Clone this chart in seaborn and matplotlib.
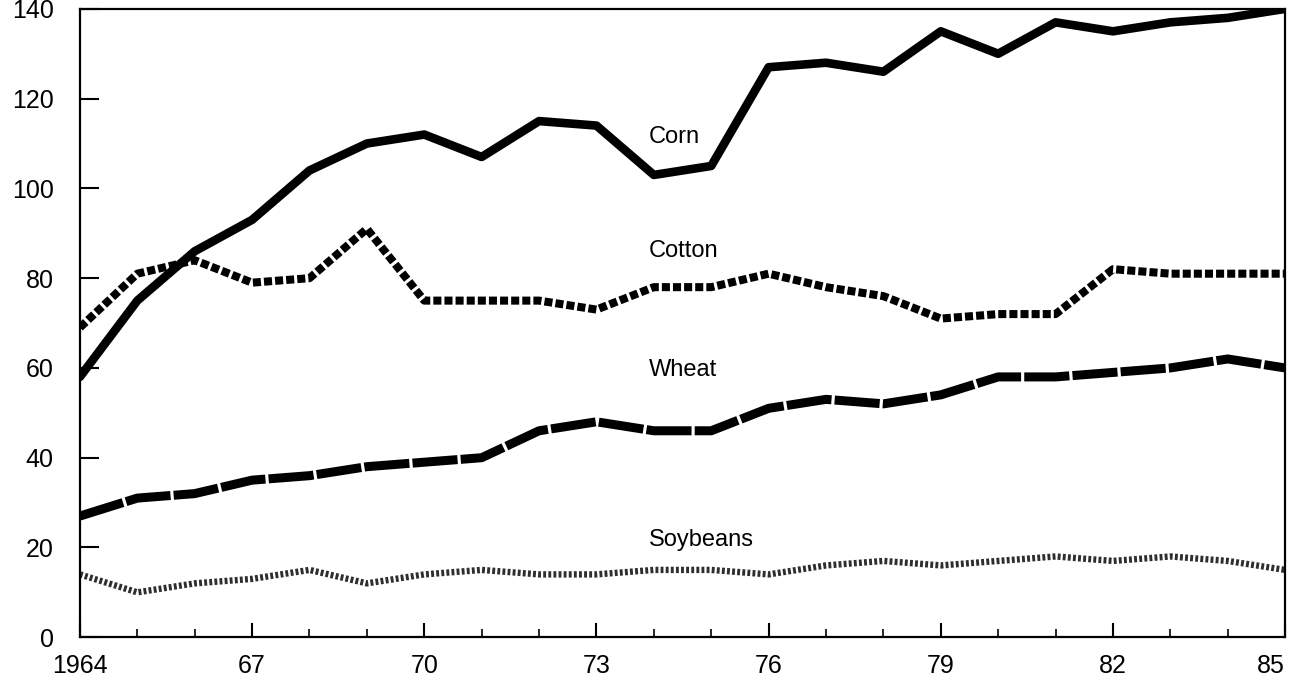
import numpy as np
import pandas as pd
import matplotlib
matplotlib.use("Agg")
import matplotlib.pyplot as plt
import seaborn as sns
from matplotlib.ticker import MultipleLocator

# ── data ───────────────────────────────────────────────────────
years = list(range(1964, 1986))

corn = [58, 75, 86, 93, 104, 110, 112, 107, 115, 114, 103,
        105, 127, 128, 126, 135, 130, 137, 135, 137, 138, 140]
cotton = [69, 81, 84, 79, 80, 91, 75, 75, 75, 73, 78,
          78, 81, 78, 76, 71, 72, 72, 82, 81, 81, 81]
wheat = [27, 31, 32, 35, 36, 38, 39, 40, 46, 48, 46,
         46, 51, 53, 52, 54, 58, 58, 59, 60, 62, 60]
soybeans = [14, 10, 12, 13, 15, 12, 14, 15, 14, 14, 15,
            15, 14, 16, 17, 16, 17, 18, 17, 18, 17, 15]

crop_names = ["Corn", "Cotton", "Wheat", "Soybeans"]
label_pos = {"Corn": (1973.92, 111.4), "Cotton": (1973.92, 86.1),
             "Wheat": (1973.92, 59.5), "Soybeans": (1973.92, 21.7)}

xtick_years = [1964, 1967, 1970, 1973, 1976, 1979, 1982, 1985]
xtick_labels = ["1964", "67", "70", "73", "76", "79", "82", "85"]

df = pd.DataFrame({"year": years, "Corn": corn, "Cotton": cotton,
                   "Wheat": wheat, "Soybeans": soybeans})
long_df = df.melt(id_vars="year", var_name="crop", value_name="value")

# ── style per series ───────────────────────────────────────────
styles = {
    "Corn": dict(color="black", lw=6.2, ls="-"),
    "Cotton": dict(color="black", lw=5.8, ls=(0, (1.0, 0.38))),
    "Wheat": dict(color="black", lw=6.5, ls=(0, (5.0, 0.35))),
    "Soybeans": dict(color="#2e2e2e", lw=4.6, ls=(0, (0.45, 0.35))),
}

sns.set_theme(style="white")
plt.rcParams["font.family"] = ["Liberation Sans", "DejaVu Sans"]

fig = plt.figure(figsize=(12.89, 6.83), dpi=100)
ax = fig.add_axes([0.062, 0.067, 0.935, 0.92])

for name in crop_names:
    sub = long_df[long_df["crop"] == name]
    st = styles[name]
    sns.lineplot(data=sub, x="year", y="value", ax=ax, color=st["color"],
                 linewidth=st["lw"], linestyle=st["ls"], legend=False,
                 solid_joinstyle="round", dash_capstyle="butt")
    tx, ty = label_pos[name]
    ax.text(tx, ty, name, fontsize=17, ha="left", va="center", color="black")

ax.set_xlim(1964, 1985)
ax.set_ylim(0, 140)
ax.set_xticks(xtick_years)
ax.set_xticklabels(xtick_labels)
ax.xaxis.set_minor_locator(MultipleLocator(1))
ax.set_yticks(range(0, 141, 20))
ax.set_xlabel("")
ax.set_ylabel("")

ax.tick_params(axis="both", which="both", direction="in", colors="black",
               labelsize=18)
ax.tick_params(axis="x", which="major", length=10, width=1.5, pad=12,
               bottom=True)
ax.tick_params(axis="x", which="minor", length=6, width=1.2, bottom=True)
ax.tick_params(axis="y", which="major", length=14, width=1.5, pad=19,
               left=True)
# last year label sits flush with the right frame
ax.get_xticklabels()[-1].set_horizontalalignment("right")
ax.get_xticklabels()[-1].set_x(1985)

for side in ["left", "bottom", "top", "right"]:
    ax.spines[side].set_visible(True)
    ax.spines[side].set_color("black")
    ax.spines[side].set_linewidth(1.6)

fig.savefig("out.png", dpi=100)
